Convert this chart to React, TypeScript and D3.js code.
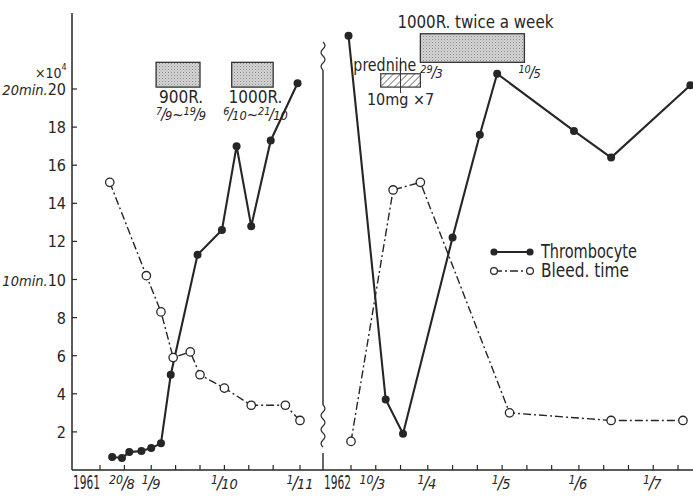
import React from 'react';
import * as d3 from 'd3';

const W = 693;
const H = 498;
const FONT = "'Liberation Sans Narrow','DejaVu Sans Condensed','Liberation Sans',sans-serif";
const INK = '#262626';

const parse = d3.timeParse('%d/%m/%Y');

// 1961 course (x10^4 thrombocytes, bleeding time in min)
const plateDates61 = ['16/8/1961', '20/8/1961', '23/8/1961', '28/8/1961', '1/9/1961', '5/9/1961', '9/9/1961', '20/9/1961', '30/9/1961', '6/10/1961', '12/10/1961', '20/10/1961', '31/10/1961'];
const plateValues61 = [0.68, 0.63, 0.94, 1.0, 1.15, 1.4, 5.0, 11.3, 12.6, 17.0, 12.8, 17.3, 20.3];
const bleedDates61 = ['15/8/1961', '30/8/1961', '5/9/1961', '10/9/1961', '17/9/1961', '21/9/1961', '1/10/1961', '12/10/1961', '26/10/1961', '1/11/1961'];
const bleedValues61 = [15.1, 10.2, 8.3, 5.9, 6.2, 5.0, 4.3, 3.4, 3.4, 2.6];

// 1962 course
const plateDates62 = ['28/2/1962', '15/3/1962', '22/3/1962', '11/4/1962', '22/4/1962', '29/4/1962', '30/5/1962', '14/6/1962', '16/7/1962'];
const plateValues62 = [22.8, 3.7, 1.9, 12.2, 17.6, 20.8, 17.8, 16.4, 20.2];
const bleedDates62 = ['1/3/1962', '18/3/1962', '29/3/1962', '4/5/1962', '14/6/1962', '13/7/1962'];
const bleedValues62 = [1.5, 14.7, 15.1, 3.0, 2.6, 2.6];

const yTicks = [2, 4, 6, 8, 10, 12, 14, 16, 18, 20];
const yUnitLabels: Record<number, string> = { 10: '10min.', 20: '20min.' };

const tickLabels61 = ['20/8', '1/9', '1/10', '1/11'];
const tickDates61 = ['20/8/1961', '1/9/1961', '1/10/1961', '1/11/1961'];
const tickLabels62 = ['10/3', '1/4', '1/5', '1/6', '1/7'];
const tickDates62 = ['10/3/1962', '1/4/1962', '1/5/1962', '1/6/1962', '1/7/1962'];

// irradiation bars
const irradStarts = ['3/9/1961', '4/10/1961', '29/3/1962'];
const irradEnds = ['21/9/1961', '21/10/1961', '10/5/1962'];
const irradTop = [21.4, 21.4, 22.9];
const irradBottom = [20.1, 20.1, 21.4];
const irradDose = ['900R.', '1000R.'];
const irradPeriod = ['7/9~19/9', '6/10~21/10'];

// prednine course
const predStart = '13/3/1962';
const predEnd = '29/3/1962';
const predTop = 20.8;
const predBottom = 20.1;

const xL = d3.scaleTime().domain([parse('11/8/1961')!, parse('1/11/1961')!]).range([100, 300]);
const xR = d3.scaleTime().domain([parse('1/3/1962')!, parse('11/7/1962')!]).range([351, 678]);
const y = d3.scaleLinear().domain([0, 20]).range([470, 89]);

const xOf = (s: string) => {
  const d = parse(s)!;
  return d.getFullYear() === 1961 ? xL(d) : xR(d);
};

const ticks61 = d3.timeDay.range(xL.domain()[0], d3.timeDay.offset(xL.domain()[1], 1)).filter((d) => [1, 11, 21].includes(d.getDate()));
const ticks62 = d3.timeDay.range(xR.domain()[0], d3.timeDay.offset(xR.domain()[1], 1)).filter((d) => [1, 11, 21].includes(d.getDate()));

const line = d3.line<[number, number]>().x((d) => d[0]).y((d) => d[1]);

const pts = (dates: string[], vals: number[]) => dates.map((d, i) => [xOf(d), y(vals[i])] as [number, number]);

function fracText(s: string, size: number) {
  const parts = s.split(/(\d+\/\d+)/).filter(Boolean);
  const out: React.ReactNode[] = [];
  parts.forEach((p, i) => {
    const m = p.match(/^(\d+)\/(\d+)$/);
    if (!m) {
      out.push(<tspan key={i} fontSize={size}>{p}</tspan>);
      return;
    }
    const r = size * 0.32;
    out.push(<tspan key={i + 'n'} fontSize={size * 0.72} dy={-r}>{m[1]}</tspan>);
    out.push(<tspan key={i + 's'} fontSize={size * 1.05} dy={r} dx={-1}>/</tspan>);
    out.push(<tspan key={i + 'd'} fontSize={size * 0.85} dx={-1}>{m[2]}</tspan>);
  });
  return out;
}

function Wavy({ x, y0, y1 }: { x: number; y0: number; y1: number }) {
  const p = d3.path();
  const step = 7;
  p.moveTo(x, y0);
  let yy = y0;
  let side = 1;
  while (yy + step <= y1 + 0.1) {
    p.quadraticCurveTo(x + side * 4, yy + step / 2, x, yy + step);
    yy += step;
    side = -side;
  }
  return <path d={p.toString()} fill="none" stroke={INK} strokeWidth={1.2} />;
}

export default function App() {
  const plate61 = pts(plateDates61, plateValues61);
  const plate62 = pts(plateDates62, plateValues62);
  const bleed61 = pts(bleedDates61, bleedValues61);
  const bleed62 = pts(bleedDates62, bleedValues62);
  const dash = '8,3,2,3';

  return (
    <svg width={W} height={H} style={{ position: 'absolute', left: 0, top: 0, background: '#fff' }} fontFamily={FONT}>
      <defs>
        <pattern id="stipple" width={3} height={3} patternUnits="userSpaceOnUse">
          <rect width={3} height={3} fill="#d4d4d4" />
          <rect x={0} y={0} width={1} height={1} fill="#8a8a8a" />
          <rect x={1.5} y={1.5} width={1} height={1} fill="#a8a8a8" />
        </pattern>
        <pattern id="hatch" width={5} height={5} patternUnits="userSpaceOnUse" patternTransform="rotate(45)">
          <rect width={5} height={5} fill="#fff" />
          <line x1={0} y1={0} x2={0} y2={5} stroke="#333" strokeWidth={1.2} />
        </pattern>
      </defs>
      <rect width={W} height={H} fill="#fff" />

      {/* axes */}
      <line x1={72} x2={72} y1={13} y2={470} stroke={INK} strokeWidth={1.5} />
      <line x1={72} x2={W} y1={470} y2={470} stroke={INK} strokeWidth={1.5} />
      {yTicks.map((t) => (
        <g key={t}>
          <line x1={72} x2={77} y1={y(t)} y2={y(t)} stroke={INK} strokeWidth={1.2} />
          <text x={66} y={y(t) + 6} textAnchor="end" fontSize={16} fill={INK}>
            {yUnitLabels[t] ? (
              <tspan fontStyle="italic" fontSize={14.5}>{yUnitLabels[t]}</tspan>
            ) : null}
            {t}
          </text>
        </g>
      ))}
      <text x={35} y={78} fontSize={14} fill={INK}>
        ×10<tspan fontSize={9} dy={-8}>4</tspan>
      </text>

      {[...ticks61.map((d) => xL(d)), ...ticks62.map((d) => xR(d))].map((x, i) => (
        <line key={i} x1={x} x2={x} y1={470} y2={465} stroke={INK} strokeWidth={1.2} />
      ))}
      <text x={xL.range()[0]} y={489} textAnchor="end" fontSize={19} textLength={27} lengthAdjust="spacingAndGlyphs" fill={INK}>1961</text>
      <text x={xR.range()[0]} y={489} textAnchor="end" fontSize={19} textLength={27} lengthAdjust="spacingAndGlyphs" fill={INK}>1962</text>
      {tickLabels61.map((l, i) => (
        <text key={l} x={xOf(tickDates61[i])} y={489} textAnchor="middle" fontStyle="italic" fill={INK}>
          {fracText(l, 17)}
        </text>
      ))}
      {tickLabels62.map((l, i) => (
        <text key={l} x={xOf(tickDates62[i]) - 1} y={489} textAnchor="middle" fontStyle="italic" fill={INK}>
          {fracText(l, 17)}
        </text>
      ))}

      {/* axis break */}
      <Wavy x={323} y0={42} y1={70} />
      <line x1={323} x2={323} y1={70} y2={405} stroke={INK} strokeWidth={1.4} />
      <Wavy x={323} y0={405} y1={453} />
      <line x1={323} x2={323} y1={453} y2={470} stroke={INK} strokeWidth={1.4} />

      {/* irradiation and prednine */}
      {irradStarts.map((s, i) => {
        const x0 = xOf(s);
        const x1 = xOf(irradEnds[i]);
        return (
          <rect key={s} x={x0} y={y(irradTop[i])} width={x1 - x0} height={y(irradBottom[i]) - y(irradTop[i])}
            fill="url(#stipple)" stroke="#333" strokeWidth={1.3} />
        );
      })}
      {irradDose.map((d, i) => {
        const cx = (xOf(irradStarts[i]) + xOf(irradEnds[i])) / 2 + 3;
        const by = y(irradBottom[i]);
        return (
          <g key={d} fill={INK}>
            <text x={cx} y={by + 16} textAnchor="middle" fontSize={17}>{d}</text>
            <text x={cx} y={by + 33} textAnchor="middle" fontStyle="italic">{fracText(irradPeriod[i], 15)}</text>
          </g>
        );
      })}
      <text x={(xOf(irradStarts[2]) + xOf(irradEnds[2])) / 2 + 3} y={y(irradTop[2]) - 6} textAnchor="middle" fontSize={18}
        textLength={156} lengthAdjust="spacingAndGlyphs" fill={INK}>1000R. twice a week</text>
      <text x={xOf(irradStarts[2])} y={78} fontStyle="italic" fill={INK}>{fracText('29/3', 15)}</text>
      <text x={xOf(irradEnds[2]) - 6} y={78} fontStyle="italic" fill={INK}>{fracText('10/5', 15)}</text>

      <rect x={xOf(predStart)} y={y(predTop)} width={xOf(predEnd) - xOf(predStart)} height={y(predBottom) - y(predTop)}
        fill="url(#hatch)" stroke="#333" strokeWidth={1.2} />
      <line x1={(xOf(predStart) + xOf(predEnd)) / 2} x2={(xOf(predStart) + xOf(predEnd)) / 2}
        y1={y(predTop) - 16} y2={y(predBottom) + 6} stroke="#333" strokeWidth={1} />
      <text x={xOf(predEnd) - 4} y={y(predTop) - 3} textAnchor="end" fontSize={17} textLength={63} lengthAdjust="spacingAndGlyphs" fill={INK}>prednine</text>
      <text x={(xOf(predStart) + xOf(predEnd)) / 2} y={y(predBottom) + 18} textAnchor="middle" fontSize={16} fill={INK}>10mg ×7</text>

      {/* series */}
      {[bleed61, bleed62].map((p, i) => (
        <path key={'b' + i} d={line(p)!} fill="none" stroke={INK} strokeWidth={1.4} strokeDasharray={dash} />
      ))}
      {[plate61, plate62].map((p, i) => (
        <path key={'p' + i} d={line(p)!} fill="none" stroke={INK} strokeWidth={2.1} />
      ))}
      {[...bleed61, ...bleed62].map((p, i) => (
        <circle key={'bc' + i} cx={p[0]} cy={p[1]} r={4.2} fill="#fff" stroke={INK} strokeWidth={1.3} />
      ))}
      {[...plate61, ...plate62].map((p, i) => (
        <circle key={'pc' + i} cx={p[0]} cy={p[1]} r={4} fill={INK} />
      ))}

      {/* legend */}
      <line x1={494} x2={530} y1={252} y2={252} stroke={INK} strokeWidth={2} />
      <circle cx={494} cy={252} r={3.6} fill={INK} />
      <circle cx={530} cy={252} r={3.6} fill={INK} />
      <text x={541} y={258} fontSize={19} textLength={96} lengthAdjust="spacingAndGlyphs" fill={INK}>Thrombocyte</text>
      <line x1={494} x2={530} y1={271} y2={271} stroke={INK} strokeWidth={1.4} strokeDasharray={dash} />
      <circle cx={494} cy={271} r={3.4} fill="#fff" stroke={INK} strokeWidth={1.2} />
      <circle cx={530} cy={271} r={3.4} fill="#fff" stroke={INK} strokeWidth={1.2} />
      <text x={541} y={277} fontSize={19} textLength={88} lengthAdjust="spacingAndGlyphs" fill={INK}>Bleed. time</text>
    </svg>
  );
}
